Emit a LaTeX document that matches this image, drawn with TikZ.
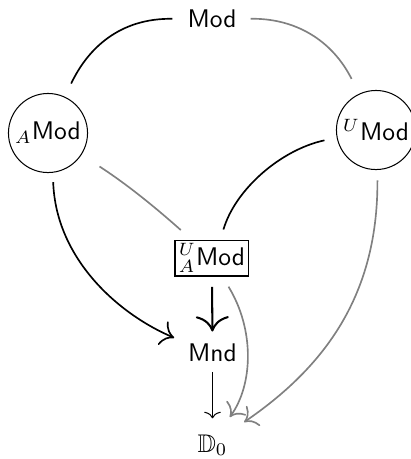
\documentclass[tikz,border=0pt]{standalone}
\usepackage{amssymb}
\usetikzlibrary{arrows.meta}
\begin{document}
\begin{tikzpicture}[x=0.392pt,y=-0.392pt,
  lbl/.style={inner sep=0pt, outer sep=0pt, font=\sffamily},
  ring/.style={draw, circle, line width=0.4pt, inner sep=0pt, outer sep=0pt, minimum size=31pt, font=\sffamily},
  frame/.style={draw, rectangle, line width=0.4pt, inner sep=0pt, outer sep=0pt, minimum width=29pt, minimum height=14.1pt, font=\sffamily},
  blk/.style={line width=0.65pt, black},
  gry/.style={line width=0.65pt, gray},
  tipA/.style={-{Computer Modern Rightarrow[length=5pt,width=10pt]}},
  tipB/.style={-{Computer Modern Rightarrow[length=6pt,width=13pt]}},
  tipC/.style={-{Computer Modern Rightarrow[length=2.6pt,width=6.5pt]}},
  tipG/.style={-{Computer Modern Rightarrow[length=4.6pt,width=9.5pt]}}
]
\useasboundingbox (0,0) rectangle (411,459);
\node[lbl] (Mod) at (212,19) {Mod};
\node[ring] (AMod) at (48,133) {$_A$Mod};
\node[ring] (UMod) at (376,130) {$^U$Mod};
\node[frame] (UAMod) at (212,258) {$^U_A$Mod};
\node[lbl] (Mnd) at (212.5,353) {Mnd};
\node[lbl, anchor=base] (D0) at (212.5,452) {$\mathbb{D}_0$};

\draw[blk, shorten <=5.9pt, shorten >=5.9pt] (Mod.west) .. controls (120,18) and (88,48) .. (AMod.65);
\draw[gry, shorten <=5.5pt, shorten >=6.7pt] (Mod.east) .. controls (295,18) and (332,40) .. (UMod.115);
\draw[gry, shorten <=8.6pt, shorten >=5.9pt] (AMod.-33) .. controls (128,185) and (156,208) .. (UAMod.138);
\draw[blk, shorten <=5.1pt, shorten >=4.3pt] (UMod.191) .. controls (280,150) and (235,190) .. (UAMod.65);
\draw[blk, tipA, shorten <=3.9pt, shorten >=6.3pt] (AMod.-83) .. controls (56,260) and (120,315) .. (Mnd.159);
\draw[line width=0.8pt, tipB, shorten <=4.3pt, shorten >=4.9pt] (UAMod.south) -- (Mnd.north);
\draw[line width=0.4pt, tipC, shorten <=3.9pt, shorten >=6.3pt] (Mnd.south) -- (D0.north);
\draw[gry, tipG, shorten <=4.9pt, shorten >=8.4pt] (UAMod.-61) .. controls (255,330) and (253,385) .. (D0.66);
\draw[gry, tipG, shorten <=4.3pt, shorten >=8.5pt] (UMod.-88) .. controls (378,300) and (320,370) .. (D0.38);
\end{tikzpicture}
\end{document}
